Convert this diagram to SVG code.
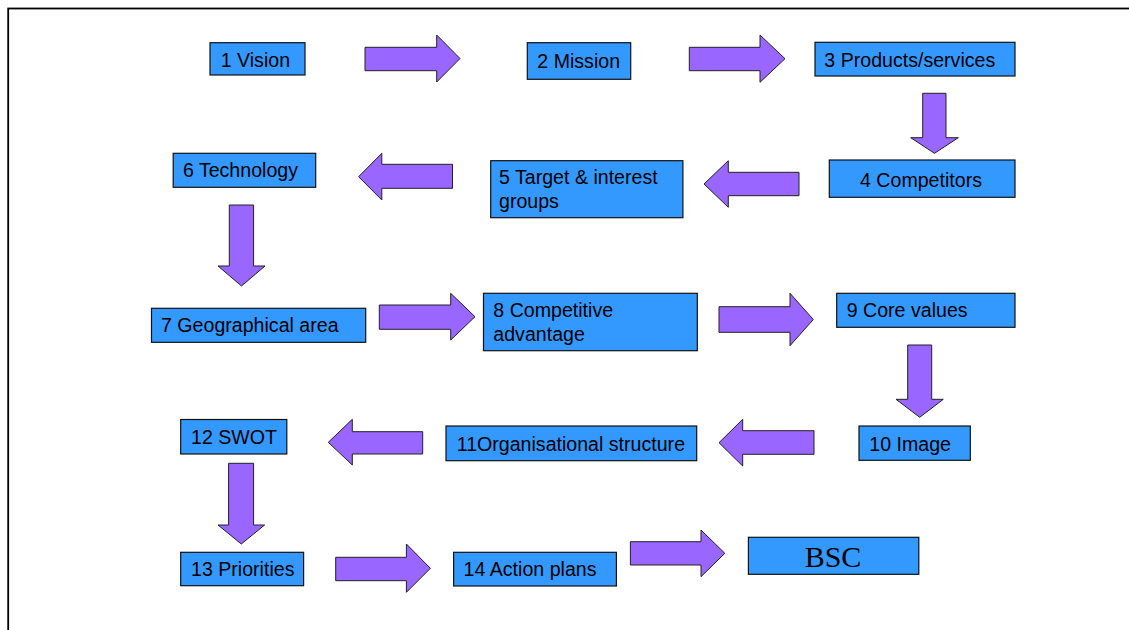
<svg xmlns="http://www.w3.org/2000/svg" width="1129" height="630" viewBox="0 0 1129 630">
  <style>
    .box { fill: #3399FF; stroke: #111; stroke-width: 1.2; }
    .lbl { font-family: "Liberation Sans", Arial, sans-serif; font-size: 19.6px; fill: #000; }
    .big { font-family: "Liberation Serif", "Times New Roman", serif; font-size: 30px; fill: #000; }
    .arrow { fill: #9966FF; stroke: #222; stroke-width: 1; stroke-linejoin: miter; }
  </style>
  <rect x="0" y="0" width="1129" height="630" fill="#fff"/>
  <!-- page frame -->
  <rect x="8.2" y="8.5" width="1200" height="700" fill="none" stroke="#000" stroke-width="1.8"/>

  <g id="connectors">
    <polygon class="arrow" points="365,47.3 436.7,47.3 436.7,35 460,58.5 436.7,82 436.7,70.7 365,70.7"/>
    <polygon class="arrow" points="689.3,47.3 760,47.3 760,35 785,58.7 760,82.3 760,70.7 689.3,70.7"/>
    <polygon class="arrow" points="922.7,93.3 946,93.3 946,137.7 958.3,137.7 934.5,153.3 910.7,137.7 922.7,137.7"/>
    <polygon class="arrow" points="799,172.3 728.3,172.3 728.3,160.7 704,184 728.3,207.3 728.3,195.7 799,195.7"/>
    <polygon class="arrow" points="452.5,164.3 381.8,164.3 381.8,153.3 358.6,176.7 381.8,200 381.8,188.3 452.5,188.3"/>
    <polygon class="arrow" points="229.3,205 253.6,205 253.6,266 265,266 241.5,286 218,266 229.3,266"/>
    <polygon class="arrow" points="379.3,305 450.7,305 450.7,293.3 475,316.7 450.7,340 450.7,329.3 379.3,329.3"/>
    <polygon class="arrow" points="719,306.7 790,306.7 790,293.3 813.3,319.5 790,345.7 790,332.3 719,332.3"/>
    <polygon class="arrow" points="907.7,345 931.7,345 931.7,399.3 943.3,399.3 919.7,417.3 896,399.3 907.7,399.3"/>
    <polygon class="arrow" points="814,430.7 742.7,430.7 742.7,419.3 719,442.7 742.7,466 742.7,454.3 814,454.3"/>
    <polygon class="arrow" points="422.7,431.7 352.3,431.7 352.3,419.3 328.3,442.3 352.3,465 352.3,454 422.7,454"/>
    <polygon class="arrow" points="228.6,463.3 253.6,463.3 253.6,525 264.6,525 241.3,544 218,525 228.6,525"/>
    <polygon class="arrow" points="335.7,557.3 406.4,557.3 406.4,544 430.4,568.3 406.4,592.3 406.4,580.7 335.7,580.7"/>
    <polygon class="arrow" points="630.4,541.7 701,541.7 701,530 724.8,553.3 701,576.7 701,565 630.4,565"/>
  </g>

  <g id="n1"><rect class="box" x="210" y="42.7" width="95" height="32.3"/><text class="lbl" x="220.7" y="67">1 Vision</text></g>
  <g id="n2"><rect class="box" x="527.3" y="42.7" width="103.4" height="36.6"/><text class="lbl" x="537.3" y="68">2 Mission</text></g>
  <g id="n3"><rect class="box" x="815" y="42.3" width="200" height="33.7"/><text class="lbl" x="824.3" y="66.5">3 Products/services</text></g>
  <g id="n4"><rect class="box" x="829.3" y="160" width="185.7" height="37.3"/><text class="lbl" x="860" y="186.5">4 Competitors</text></g>
  <g id="n5"><rect class="box" x="490.7" y="160.7" width="192.2" height="57"/><text class="lbl" x="499" y="184.3">5 Target &amp; interest</text><text class="lbl" x="499" y="208.3">groups</text></g>
  <g id="n6"><rect class="box" x="173.2" y="153.3" width="142.5" height="34"/><text class="lbl" x="182.9" y="177">6 Technology</text></g>
  <g id="n7"><rect class="box" x="151.5" y="308.3" width="214.2" height="34"/><text class="lbl" x="161" y="332">7 Geographical area</text></g>
  <g id="n8"><rect class="box" x="483.5" y="293.3" width="213.8" height="57.4"/><text class="lbl" x="493.3" y="316.8">8 Competitive</text><text class="lbl" x="493.3" y="340.8">advantage</text></g>
  <g id="n9"><rect class="box" x="836.7" y="293.3" width="178.3" height="34"/><text class="lbl" x="846.7" y="317">9 Core values</text></g>
  <g id="n10"><rect class="box" x="859" y="426" width="111.3" height="34.3"/><text class="lbl" x="869.3" y="451">10 Image</text></g>
  <g id="n11"><rect class="box" x="446" y="426" width="250.7" height="34.7"/><text class="lbl" x="456.7" y="450.5">11Organisational structure</text></g>
  <g id="n12"><rect class="box" x="180.7" y="419.5" width="106.1" height="34.5"/><text class="lbl" x="191" y="443.6">12 SWOT</text></g>
  <g id="n13"><rect class="box" x="180.7" y="552.3" width="122.9" height="33.4"/><text class="lbl" x="191" y="576.3">13 Priorities</text></g>
  <g id="n14"><rect class="box" x="453.6" y="552.3" width="162.8" height="33.7"/><text class="lbl" x="463.6" y="576.3">14 Action plans</text></g>
  <g id="bsc"><rect class="box" x="748.4" y="537.3" width="170.4" height="37"/><text class="big" x="833" y="567.3" text-anchor="middle">BSC</text></g>
</svg>
